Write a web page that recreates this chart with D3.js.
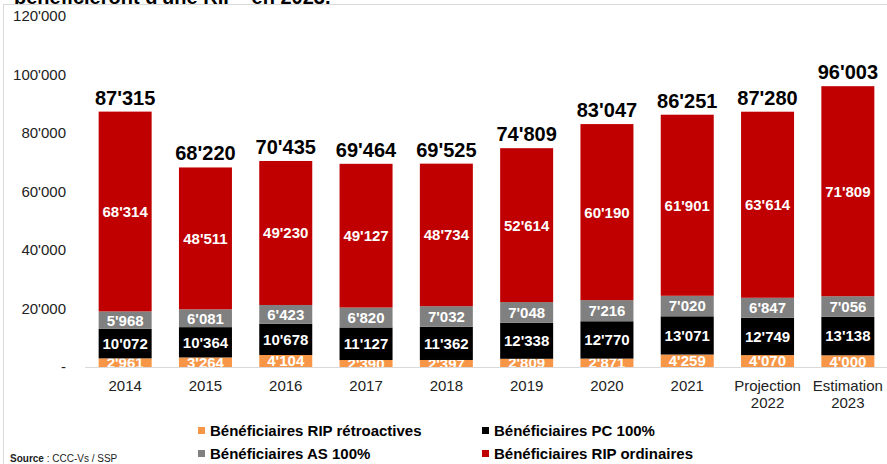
<!DOCTYPE html>
<html><head><meta charset="utf-8">
<script src="https://cdn.jsdelivr.net/npm/d3@7"></script>
<style>body{margin:0;background:#fff}svg{display:block;font-family:"Liberation Sans",Arial,sans-serif}</style>
</head><body><svg id="c" width="887" height="464"></svg>
<script>
const categories = ["2014","2015","2016","2017","2018","2019","2020","2021","Projection\n2022","Estimation\n2023"];
const ripRetro = [2961,3264,4104,2390,2397,2809,2871,4259,4070,4000];
const pc100 = [10072,10364,10678,11127,11362,12338,12770,13071,12749,13138];
const as100 = [5968,6081,6423,6820,7032,7048,7216,7020,6847,7056];
const ripOrd = [68314,48511,49230,49127,48734,52614,60190,61901,63614,71809];
const totals = [87315,68220,70435,69464,69525,74809,83047,86251,87280,96003];
const yTicks = [0,20000,40000,60000,80000,100000,120000];
const seriesNames = ["Bénéficiaires RIP rétroactives","Bénéficiaires PC 100%","Bénéficiaires AS 100%","Bénéficiaires RIP ordinaires"];
const seriesColors = ["#F79646","#000000","#808080","#C00000"];
const seriesData = [ripRetro,pc100,as100,ripOrd];

const fmt = v => v===0 ? "-" : d3.format(",")(v).replace(/,/g,"'");
const svg = d3.select("#c");

// frame lines
svg.append("line").attr("x1",3.5).attr("x2",3.5).attr("y1",4).attr("y2",464).attr("stroke","#d9d9d9");
svg.append("line").attr("x1",3).attr("x2",887).attr("y1",4.5).attr("y2",4.5).attr("stroke","#d9d9d9");
svg.append("text").attr("x",14).attr("y",4).attr("font-size",20).attr("font-weight","bold").attr("fill","#000")
  .text("bénéficieront d'une RIP\" en 2023.");

const x = d3.scaleBand().domain(categories).range([85,888]).paddingInner(0.34).paddingOuter(0.17);
const y = d3.scaleLinear().domain([0,120000]).range([367,16]);

// y axis labels
svg.append("g").selectAll("text").data(yTicks).join("text")
  .attr("x",66).attr("y",d=>y(d)).attr("dy","0.35em").attr("text-anchor","end")
  .attr("font-size",15).attr("fill","#222").text(fmt);

// baseline
svg.append("line").attr("x1",85).attr("x2",887).attr("y1",y(0)+0.5).attr("y2",y(0)+0.5).attr("stroke","#d9d9d9");

const stackData = categories.map((c,i)=>{const o={cat:c}; seriesData.forEach((s,k)=>o["s"+k]=s[i]); return o;});
const stack = d3.stack().keys([0,1,2,3].map(k=>"s"+k))(stackData);

svg.append("defs").append("clipPath").attr("id","pc").append("rect")
  .attr("x",0).attr("y",0).attr("width",887).attr("height",y(0));
const plot = svg.append("g").attr("clip-path","url(#pc)");

stack.forEach((layer,k)=>{
  const g = plot.append("g");
  g.selectAll("rect").data(layer).join("rect")
    .attr("x",d=>x(d.data.cat)).attr("width",x.bandwidth())
    .attr("y",d=>y(d[1])).attr("height",d=>y(d[0])-y(d[1]))
    .attr("fill",seriesColors[k]);
  g.selectAll("text").data(layer).join("text")
    .attr("x",d=>x(d.data.cat)+x.bandwidth()/2)
    .attr("y",d=>(y(d[0])+y(d[1]))/2).attr("dy","0.36em")
    .attr("text-anchor","middle").attr("font-size",15).attr("font-weight","bold").attr("fill","#fff")
    .text((d,i)=>fmt(seriesData[k][i]));
});

// totals
svg.append("g").selectAll("text").data(totals).join("text")
  .attr("x",(d,i)=>x(categories[i])+x.bandwidth()/2).attr("y",d=>y(d)-7)
  .attr("text-anchor","middle").attr("font-size",20).attr("font-weight","bold").attr("fill","#000")
  .text(fmt);

// category labels
const cl = svg.append("g").selectAll("text").data(categories).join("text")
  .attr("x",d=>x(d)+x.bandwidth()/2).attr("y",391)
  .attr("text-anchor","middle").attr("font-size",15).attr("fill","#222");
cl.each(function(d){
  const t=d3.select(this);
  d.split("\n").forEach((line,j)=>t.append("tspan").attr("x",t.attr("x")).attr("dy",j?17:0).text(line));
});

// legend
const legPos = [[198,431],[482,431],[198,454],[482,454]];
const lg = svg.append("g").selectAll("g").data(seriesNames).join("g")
  .attr("transform",(d,i)=>`translate(${legPos[i][0]},${legPos[i][1]})`);
lg.append("rect").attr("x",0).attr("y",-4).attr("width",7).attr("height",7).attr("fill",(d,i)=>seriesColors[i]);
lg.append("text").attr("x",12).attr("y",0).attr("dy","0.36em").attr("font-size",15).attr("font-weight","bold")
  .attr("fill","#000").text(d=>d);

// source
const src = svg.append("text").attr("x",10).attr("y",462).attr("font-size",10).attr("fill","#222");
src.append("tspan").attr("font-weight","bold").text("Source");
src.append("tspan").text(" : CCC-Vs / SSP");
</script></body></html>
